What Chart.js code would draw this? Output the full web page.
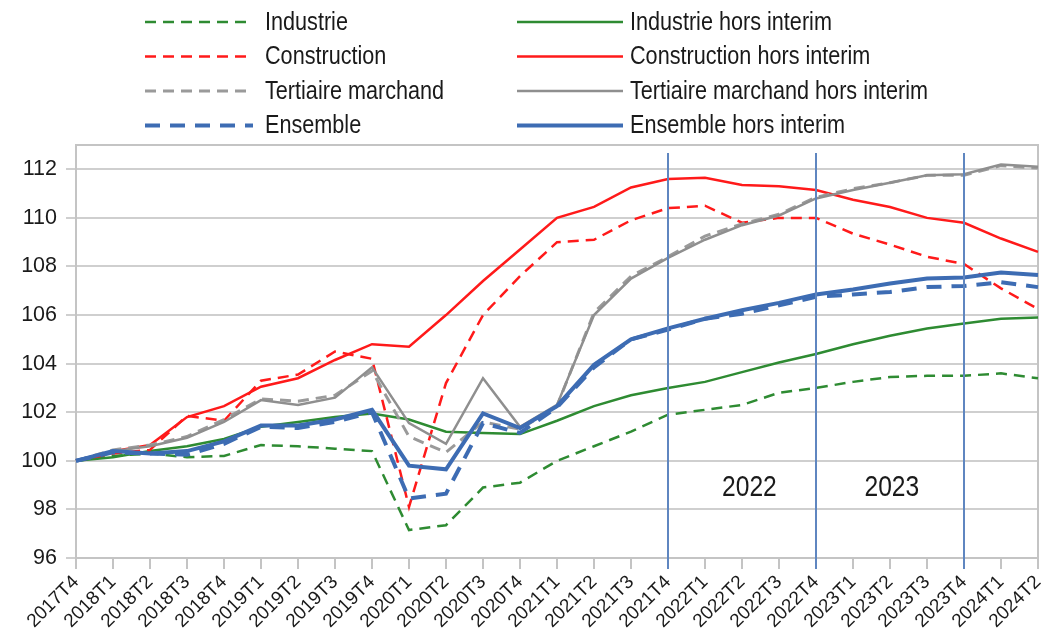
<!DOCTYPE html>
<html>
<head>
<meta charset="utf-8">
<script src="https://cdn.jsdelivr.net/npm/chart.js@4"></script>
<style>
  html, body { margin: 0; padding: 0; background: #ffffff; }
  #wrap { width: 1043px; height: 642px; position: relative; }
</style>
</head>
<body>
<div id="wrap"><canvas id="c" width="1043" height="642"></canvas></div>
<script>
// ---- DATA ----
const categories = ['2017T4','2018T1','2018T2','2018T3','2018T4','2019T1','2019T2','2019T3','2019T4',
  '2020T1','2020T2','2020T3','2020T4','2021T1','2021T2','2021T3','2021T4',
  '2022T1','2022T2','2022T3','2022T4','2023T1','2023T2','2023T3','2023T4','2024T1','2024T2'];

const industrie = [100, 100.2, 100.3, 100.15, 100.2, 100.65, 100.6, 100.5, 100.4, 97.15, 97.35, 98.9, 99.1,
  100.0, 100.6, 101.2, 101.9, 102.1, 102.3, 102.8, 103.0, 103.25, 103.45, 103.5, 103.5, 103.6, 103.4];
const industrieHorsInterim = [100, 100.15, 100.4, 100.6, 100.9, 101.4, 101.6, 101.8, 101.95, 101.7, 101.2, 101.15, 101.1,
  101.65, 102.25, 102.7, 103.0, 103.25, 103.65, 104.05, 104.4, 104.8, 105.15, 105.45, 105.65, 105.85, 105.9];
const construction = [100, 100.3, 100.45, 101.85, 101.65, 103.3, 103.55, 104.5, 104.2, 98.1, 103.2, 106.0, 107.6,
  109.0, 109.1, 109.9, 110.4, 110.5, 109.8, 110.0, 110.0, 109.35, 108.9, 108.4, 108.1, 107.1, 106.25];
const constructionHorsInterim = [100, 100.4, 100.65, 101.8, 102.25, 103.05, 103.4, 104.15, 104.8, 104.7, 106.0, 107.4, 108.7,
  110.0, 110.45, 111.25, 111.6, 111.65, 111.35, 111.3, 111.15, 110.75, 110.45, 110.0, 109.8, 109.15, 108.6];
const tertiaire = [100, 100.45, 100.65, 101.0, 101.7, 102.55, 102.45, 102.7, 103.7, 101.0, 100.35, 101.6, 101.3,
  102.25, 106.1, 107.6, 108.4, 109.25, 109.75, 110.15, 110.85, 111.2, 111.45, 111.75, 111.75, 112.15, 112.05];
const tertiaireHorsInterim = [100, 100.4, 100.6, 100.95, 101.6, 102.5, 102.3, 102.6, 103.85, 101.55, 100.7, 103.4, 101.4,
  102.3, 106.0, 107.5, 108.35, 109.1, 109.7, 110.1, 110.8, 111.15, 111.45, 111.75, 111.8, 112.2, 112.1];
const ensemble = [100, 100.35, 100.3, 100.25, 100.7, 101.4, 101.35, 101.6, 102.0, 98.45, 98.65, 101.55, 101.15,
  102.2, 103.85, 105.0, 105.4, 105.85, 106.05, 106.4, 106.75, 106.85, 106.95, 107.15, 107.2, 107.35, 107.15];
const ensembleHorsInterim = [100, 100.4, 100.3, 100.4, 100.8, 101.45, 101.45, 101.7, 102.1, 99.8, 99.65, 101.95, 101.35,
  102.25, 103.95, 105.0, 105.45, 105.85, 106.2, 106.5, 106.85, 107.05, 107.3, 107.5, 107.55, 107.75, 107.65];

const yTicks = [96, 98, 100, 102, 104, 106, 108, 110, 112];
const markerCategories = ['2021T4', '2022T4', '2023T4'];
const yearLabels = ['2022', '2023'];
const yearLabelCategoryPos = [18.2, 22.05];
const yearLabelValue = [98.88, 98.88];

// ---- STYLE ----
const FONT = '"Liberation Sans", Arial, sans-serif';
const NARROW = 0.82;
const GREEN = '#2e8b32', RED = '#ff1a1a', GRAY = '#8f8f8f', BLUE = '#3d6cb3';

function ds(label, data, color, width, dash, order) {
  return { label, data, borderColor: color, backgroundColor: color, borderWidth: width,
    borderDash: dash, pointRadius: 0, pointHoverRadius: 0, tension: 0, fill: false, order };
}

const datasets = [
  ds('Industrie', industrie, GREEN, 2.5, [11, 7], 8),
  ds('Industrie hors interim', industrieHorsInterim, GREEN, 2.5, [], 7),
  ds('Construction', construction, RED, 2.5, [11, 7], 6),
  ds('Construction hors interim', constructionHorsInterim, RED, 2.5, [], 5),
  ds('Tertiaire marchand', tertiaire, '#9a9a9a', 3, [11, 7], 4),
  ds('Tertiaire marchand hors interim', tertiaireHorsInterim, GRAY, 2.5, [], 3),
  ds('Ensemble', ensemble, BLUE, 4, [15, 10], 2),
  ds('Ensemble hors interim', ensembleHorsInterim, BLUE, 4, [], 1)
];

function narrowText(ctx, text, x, y, align, factor) {
  ctx.save();
  ctx.translate(x, y);
  ctx.scale(factor || NARROW, 1);
  ctx.textAlign = align;
  ctx.fillText(text, 0, 0);
  ctx.restore();
}

const decorPlugin = {
  id: 'decor',
  beforeDatasetsDraw(chart) {
    const { ctx, chartArea: a } = chart;
    ctx.save();
    ctx.strokeStyle = '#c4c4c4';
    ctx.lineWidth = 2;
    ctx.beginPath();
    ctx.moveTo(a.left, a.top); ctx.lineTo(a.right, a.top); ctx.lineTo(a.right, a.bottom);
    ctx.stroke();
    ctx.restore();
  },
  afterDatasetsDraw(chart) {
    const { ctx, chartArea: a, scales: { x, y } } = chart;
    ctx.save();
    ctx.strokeStyle = '#5f86c0';
    ctx.lineWidth = 2;
    markerCategories.forEach(c => {
      const px = Math.round(x.getPixelForValue(categories.indexOf(c)));
      ctx.beginPath();
      ctx.moveTo(px, a.top + 8);
      ctx.lineTo(px, a.bottom + 11);
      ctx.stroke();
    });
    ctx.fillStyle = '#1a1a1a';
    ctx.font = '30px ' + FONT;
    ctx.textBaseline = 'middle';
    yearLabels.forEach((t, i) => {
      narrowText(ctx, t, x.getPixelForValue(yearLabelCategoryPos[i]), y.getPixelForValue(yearLabelValue[i]), 'center');
    });
    ctx.restore();
  },
  afterDraw(chart) {
    const { ctx } = chart;
    ctx.save();
    const rowsY = [22, 56.5, 91, 125.5];
    const cols = [{ x0: 145, x1: 253, tx: 265 }, { x0: 517, x1: 623, tx: 630 }];
    ctx.font = '25px ' + FONT;
    ctx.textBaseline = 'middle';
    chart.data.datasets.forEach((d, i) => {
      const col = cols[i % 2];
      const yy = rowsY[Math.floor(i / 2)];
      ctx.strokeStyle = d.borderColor;
      ctx.lineWidth = d.borderWidth;
      ctx.setLineDash(d.borderDash);
      ctx.beginPath();
      ctx.moveTo(col.x0, yy);
      ctx.lineTo(col.x1, yy);
      ctx.stroke();
      ctx.setLineDash([]);
      ctx.fillStyle = '#1a1a1a';
      narrowText(ctx, d.label, col.tx, yy + 1, 'left', 0.865);
    });
    ctx.restore();
  }
};

new Chart(document.getElementById('c'), {
  type: 'line',
  data: { labels: categories, datasets },
  options: {
    responsive: false,
    animation: false,
    events: [],
    layout: { padding: { top: 145, right: 5, left: 0, bottom: 0 } },
    plugins: { legend: { display: false }, tooltip: { enabled: false }, title: { display: false } },
    scales: {
      x: {
        offset: false,
        afterFit: s => { s.height = 84; s.paddingRight = 0; s.paddingLeft = 0; },
        grid: { drawOnChartArea: false, drawTicks: true, tickLength: 11, color: '#c4c4c4', lineWidth: 2 },
        border: { color: '#c4c4c4', width: 2 },
        ticks: { autoSkip: false, minRotation: 45, maxRotation: 45, padding: 2, color: '#1a1a1a',
          font: { family: FONT, size: 19 } }
      },
      y: {
        min: 96, max: 113,
        afterFit: s => { s.width = 76; },
        afterBuildTicks: s => { s.ticks = yTicks.map(v => ({ value: v })); },
        grid: { color: '#cfcfcf', lineWidth: 2, tickLength: 10, drawTicks: true },
        border: { color: '#c4c4c4', width: 2 },
        ticks: { padding: 9, color: '#1a1a1a', font: { family: FONT, size: 21.5 } }
      }
    }
  },
  plugins: [decorPlugin]
});
</script>
</body>
</html>
